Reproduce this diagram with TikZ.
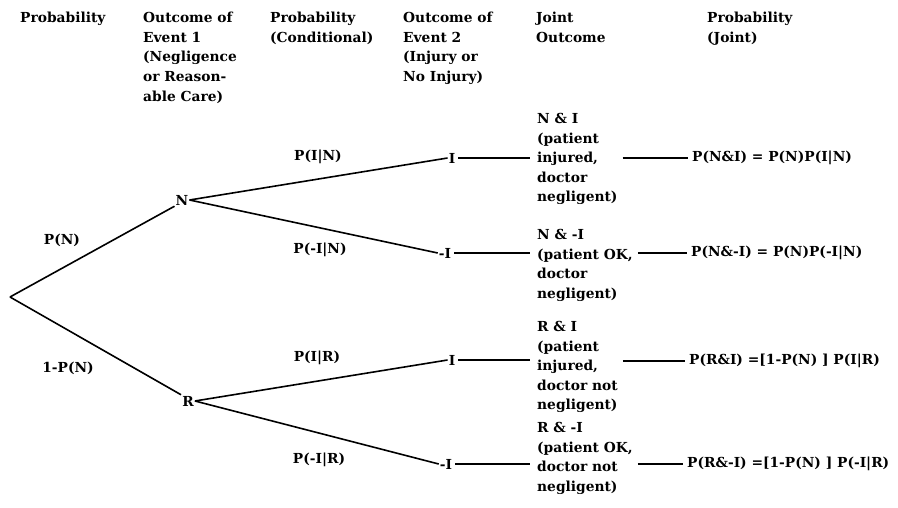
\documentclass[tikz,border=0pt]{standalone}
\usepackage{fontspec}
\setmainfont{DejaVu Serif}
\begin{document}
\begin{tikzpicture}[x=1pt,y=-1pt,
  txt/.style={font=\bfseries\fontsize{13.8}{19.6}\selectfont, inner sep=0pt, align=left, anchor=north west},
  lbl/.style={font=\bfseries\fontsize{13.8}{19.6}\selectfont, inner sep=1pt},
  ln/.style={line width=1.6pt}]
\useasboundingbox (0,0) rectangle (898,508);
% headers
\node[txt] (h1) at (20,12) {Probability};
\node[txt] (h2) at (143,12) {Outcome of\\Event 1\\(Negligence\\or Reason-\\able Care)};
\node[txt] (h3) at (270,12) {Probability\\(Conditional)};
\node[txt] (h4) at (403,12) {Outcome of\\Event 2\\(Injury or\\No Injury)};
\node[txt] (h5) at (536,12) {Joint\\Outcome};
\node[txt] (h6) at (707,12) {Probability\\(Joint)};
% tree
\coordinate (root) at (10,297);
\node[lbl] (N) at (182,200) {N};
\node[lbl] (R) at (188,401) {R};
\node[lbl] (I1) at (452,158) {I};
\node[lbl] (M1) at (445,253) {-I};
\node[lbl] (I2) at (452,360) {I};
\node[lbl] (M2) at (446,464) {-I};
\draw[ln] (root) -- (N.south west);
\draw[ln] (root) -- (R.north west);
\draw[ln] (N.east) -- (I1.west);
\draw[ln] (N.east) -- (M1.west);
\draw[ln] (R.east) -- (I2.west);
\draw[ln] (R.east) -- (M2.west);
% branch labels
\node[lbl] (pN) at (62,240) {P(N)};
\node[lbl] (qN) at (68,368) {1-P(N)};
\node[lbl] (pIN) at (318,157) {P(I|N)};
\node[lbl] (pMN) at (320,250) {P(-I|N)};
\node[lbl] (pIR) at (317,358) {P(I|R)};
\node[lbl] (pMR) at (319,460) {P(-I|R)};
% joint outcomes
\node[txt] (J1) at (537,113) {N \& I\\(patient\\injured,\\doctor\\negligent)};
\node[txt] (J2) at (537,229) {N \& -I\\(patient OK,\\doctor\\negligent)};
\node[txt] (J3) at (537,321) {R \& I\\(patient\\injured,\\doctor not\\negligent)};
\node[txt] (J4) at (537,422) {R \& -I\\(patient OK,\\doctor not\\negligent)};
% joint probabilities
\node[lbl, anchor=west] (P1) at (691,158) {P(N\&I) = P(N)P(I|N)};
\node[lbl, anchor=west] (P2) at (690,253) {P(N\&-I) = P(N)P(-I|N)};
\node[lbl, anchor=west] (P3) at (688,361) {P(R\&I) =[1-P(N) ] P(I|R)};
\node[lbl, anchor=west] (P4) at (686,464) {P(R\&-I) =[1-P(N) ] P(-I|R)};
% connectors
\draw[ln, shorten <=2pt, shorten >=7pt] (I1.east) -- (I1.east -| J1.west);
\draw[ln, shorten <=2pt, shorten >=7pt] (M1.east) -- (M1.east -| J2.west);
\draw[ln, shorten <=2pt, shorten >=7pt] (I2.east) -- (I2.east -| J3.west);
\draw[ln, shorten <=2pt, shorten >=7pt] (M2.east) -- (M2.east -| J4.west);
\draw[ln, shorten <=5pt, shorten >=3pt] (P1.west -| J1.east) -- (P1.west);
\draw[ln, shorten <=5pt, shorten >=3pt] (P2.west -| J2.east) -- (P2.west);
\draw[ln, shorten <=5pt, shorten >=3pt] (P3.west -| J3.east) -- (P3.west);
\draw[ln, shorten <=5pt, shorten >=3pt] (P4.west -| J4.east) -- (P4.west);
\end{tikzpicture}
\end{document}
